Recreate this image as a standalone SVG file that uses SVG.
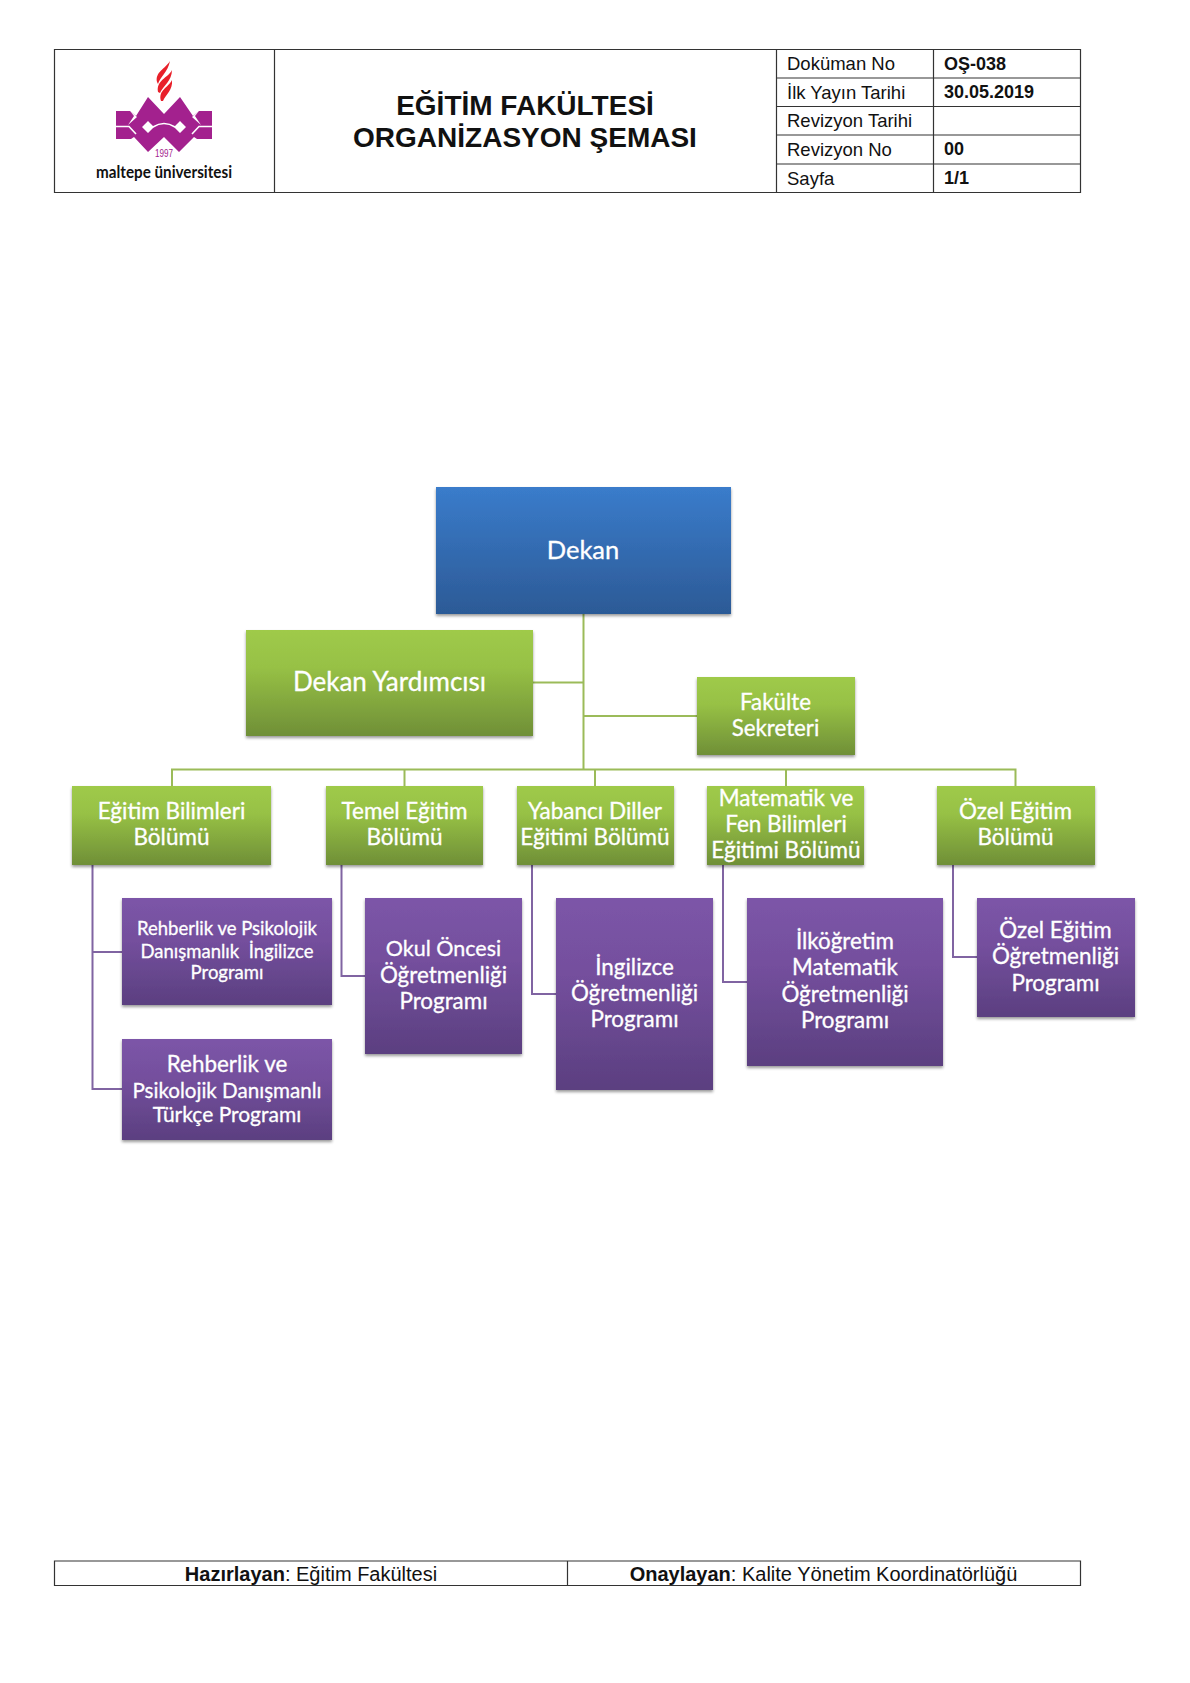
<svg xmlns="http://www.w3.org/2000/svg" width="1190" height="1683" viewBox="0 0 1190 1683">
<style>
.a{font-family:"Liberation Sans",Arial,sans-serif;fill:#111}
.c{font-size:18.500px}
.v{font-size:18px;font-weight:bold}
.t{font-size:28px;font-weight:bold;text-anchor:middle}
.f{font-size:20px;text-anchor:middle}
.n{font-family:Lato,"Noto Sans",sans-serif;fill:#fff;text-anchor:middle;stroke:#fff;stroke-width:.3;white-space:pre}
.tl{fill:none;stroke:#333;stroke-width:1.2}
.gl{fill:none;stroke:#9bbb59;stroke-width:2}
.pl{fill:none;stroke:#8064a2;stroke-width:2}
</style>
<defs>
<linearGradient id="b" x1="0" y1="0" x2="0" y2="1"><stop offset="0" stop-color="#3a7ccb"/><stop offset="1" stop-color="#2c5a96"/></linearGradient>
<linearGradient id="g" x1="0" y1="0" x2="0" y2="1"><stop offset="0" stop-color="#9fca4a"/><stop offset=".35" stop-color="#97c145"/><stop offset="1" stop-color="#6f8f37"/></linearGradient>
<linearGradient id="p" x1="0" y1="0" x2="0" y2="1"><stop offset="0" stop-color="#7c55a8"/><stop offset=".4" stop-color="#744f9d"/><stop offset="1" stop-color="#5b3f80"/></linearGradient>
<filter id="s" x="-5%" y="-5%" width="110%" height="115%"><feDropShadow dx="0" dy="2" stdDeviation="1.6" flood-color="#000" flood-opacity=".4"/></filter>
</defs>
<rect width="1190" height="1683" fill="#fff"/>
<g id="header">
<path class="tl" d="M54.500 49.500H1080.500V192.500H54.500ZM274.500 49.500V192.500M776.500 49.500V192.500M933.500 49.500V192.500M776.500 78H1080.500M776.500 106.500H1080.500M776.500 135H1080.500M776.500 164H1080.500"/>
<g id="logo">
<g fill="#e8202a"><path d="M170 61C165 69 155 72 157 82L158 84C160 77 168 72 170 61Z"/><path d="M172 70C168 78 156 80 158 92L160 93C163 86 172 81 172 70Z"/><path d="M172 80C168 88 158 90 161 101L163 101C166 94 173 90 172 80Z"/></g>
<path fill="#a3218e" d="M116 111H130L136 116L148 97L164 114L180 97L193 116L199 111H212V139H197L194 137L179 152L164 137L148 152L134 137L131 139H116Z"/>
<path fill="#fff" d="M130 111L137 117L128 125L134 116ZM199 111L192 117L201 125L195 116ZM142 127L148 121L154 127L148 133ZM174 127L180 121L186 127L180 133Z"/>
<path fill="none" stroke="#fff" stroke-width="1.600" d="M116 126.500H129L136 134M212 126.500H199L192 134M153 127Q164 120 175 127"/>
<text x="164" y="157" font-family="Liberation Sans,sans-serif" font-size="10" fill="#a3218e" text-anchor="middle" textLength="18" lengthAdjust="spacingAndGlyphs">1997</text>
<text x="164" y="178" font-family="Lato,sans-serif" font-weight="bold" font-size="17" fill="#111" text-anchor="middle" textLength="136" lengthAdjust="spacingAndGlyphs">maltepe üniversitesi</text>
</g>
<text class="a t" x="525" y="115">EĞİTİM FAKÜLTESİ</text>
<text class="a t" x="525" y="147">ORGANİZASYON ŞEMASI</text>
<text class="a c" x="787" y="70">Doküman No</text><text class="a v" x="944" y="70">OŞ-038</text>
<text class="a c" x="787" y="99">İlk Yayın Tarihi</text><text class="a v" x="944" y="98">30.05.2019</text>
<text class="a c" x="787" y="127">Revizyon Tarihi</text>
<text class="a c" x="787" y="156">Revizyon No</text><text class="a v" x="944" y="155">00</text>
<text class="a c" x="787" y="185">Sayfa</text><text class="a v" x="944" y="184">1/1</text>
</g>
<g id="connectors">
<path class="gl" d="M583.500 614V769.500M533 682.500H583.500M583.500 716H697M172 786V769.500H1015.500V786M404.500 769.500V786M595 769.500V786M786 769.500V786"/>
<path class="pl" d="M92.500 865V1089H122M92.500 952H122M341.500 865V976H365M532 865V994H556M723 865V982H747M953 865V957H977"/>
</g>
<g id="dekan"><rect x="436" y="487" width="295" height="127" fill="url(#b)" filter="url(#s)"/><text class="n" x="583" y="559" font-size="25.500">Dekan</text></g>
<g id="dekan-yardimcisi"><rect x="246" y="630" width="287" height="106" fill="url(#g)" filter="url(#s)"/><text class="n" x="389.500" y="691" font-size="26">Dekan Yardımcısı</text></g>
<g id="fakulte-sekreteri"><rect x="697" y="677" width="158" height="78" fill="url(#g)" filter="url(#s)"/><text class="n" font-size="22.300"><tspan x="775.500" y="710">Fakülte</tspan><tspan x="775.500" y="736">Sekreteri</tspan></text></g>
<g id="egitim-bilimleri"><rect x="72" y="786" width="199" height="79" fill="url(#g)" filter="url(#s)"/><text class="n" font-size="22.500"><tspan x="171.500" y="819">Eğitim Bilimleri</tspan><tspan x="171.500" y="845">Bölümü</tspan></text></g>
<g id="temel-egitim"><rect x="326" y="786" width="157" height="79" fill="url(#g)" filter="url(#s)"/><text class="n" font-size="22.500"><tspan x="404.500" y="819">Temel Eğitim</tspan><tspan x="404.500" y="845">Bölümü</tspan></text></g>
<g id="yabanci-diller"><rect x="517" y="786" width="157" height="79" fill="url(#g)" filter="url(#s)"/><text class="n" font-size="22.500"><tspan x="595" y="819">Yabancı Diller</tspan><tspan x="595" y="845">Eğitimi Bölümü</tspan></text></g>
<g id="matematik-fen"><rect x="707" y="786" width="157" height="79" fill="url(#g)" filter="url(#s)"/><text class="n" font-size="22.500"><tspan x="786" y="806">Matematik ve</tspan><tspan x="786" y="832">Fen Bilimleri</tspan><tspan x="786" y="858">Eğitimi Bölümü</tspan></text></g>
<g id="ozel-egitim"><rect x="937" y="786" width="158" height="79" fill="url(#g)" filter="url(#s)"/><text class="n" font-size="22.500"><tspan x="1015.500" y="819">Özel Eğitim</tspan><tspan x="1015.500" y="845">Bölümü</tspan></text></g>
<g id="rpd-ingilizce"><rect x="122" y="898" width="210" height="107" fill="url(#p)" filter="url(#s)"/><text class="n" font-size="18.500"><tspan x="227" y="935">Rehberlik ve Psikolojik</tspan><tspan x="227" y="958">Danışmanlık  İngilizce</tspan><tspan x="227" y="979">Programı</tspan></text></g>
<g id="rpd-turkce"><rect x="122" y="1039" width="210" height="101" fill="url(#p)" filter="url(#s)"/><text class="n"><tspan x="227" y="1072" font-size="22.400">Rehberlik ve</tspan><tspan x="227" y="1098" font-size="20.600">Psikolojik Danışmanlı</tspan><tspan x="227" y="1122" font-size="21">Türkçe Programı</tspan></text></g>
<g id="okul-oncesi"><rect x="365" y="898" width="157" height="156" fill="url(#p)" filter="url(#s)"/><text class="n" font-size="22.400"><tspan x="443.500" y="956" font-size="21.500">Okul Öncesi</tspan><tspan x="443.500" y="983">Öğretmenliği</tspan><tspan x="443.500" y="1009">Programı</tspan></text></g>
<g id="ingilizce"><rect x="556" y="898" width="157" height="192" fill="url(#p)" filter="url(#s)"/><text class="n" font-size="22.400"><tspan x="634.500" y="975">İngilizce</tspan><tspan x="634.500" y="1001">Öğretmenliği</tspan><tspan x="634.500" y="1027">Programı</tspan></text></g>
<g id="ilkogretim-matematik"><rect x="747" y="898" width="196" height="168" fill="url(#p)" filter="url(#s)"/><text class="n" font-size="22.400"><tspan x="845" y="949">İlköğretim</tspan><tspan x="845" y="975">Matematik</tspan><tspan x="845" y="1002">Öğretmenliği</tspan><tspan x="845" y="1028">Programı</tspan></text></g>
<g id="ozel-egitim-ogretmenligi"><rect x="977" y="898" width="158" height="119" fill="url(#p)" filter="url(#s)"/><text class="n" font-size="22.400"><tspan x="1055.500" y="938">Özel Eğitim</tspan><tspan x="1055.500" y="964">Öğretmenliği</tspan><tspan x="1055.500" y="991">Programı</tspan></text></g>
<g id="footer">
<path class="tl" d="M54.500 1561H1080.500V1585.500H54.500ZM567.500 1561V1585.500"/>
<text class="a f" x="311" y="1581"><tspan font-weight="bold">Hazırlayan</tspan>: Eğitim Fakültesi</text>
<text class="a f" x="823.500" y="1581"><tspan font-weight="bold">Onaylayan</tspan>: Kalite Yönetim Koordinatörlüğü</text>
</g>
</svg>
